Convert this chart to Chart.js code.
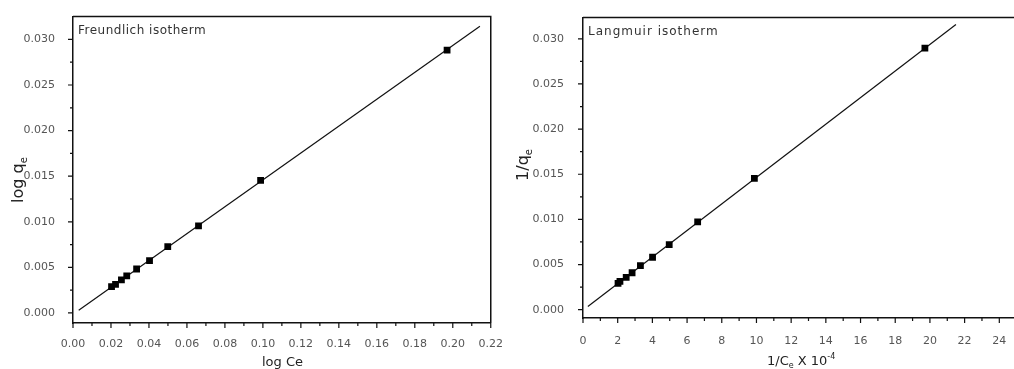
<!DOCTYPE html>
<html>
<head>
<meta charset="utf-8">
<script src="https://cdn.jsdelivr.net/npm/chart.js@4"></script>
<style>
  html, body { margin: 0; padding: 0; background: #fff; overflow: hidden; width: 1014px; height: 369px; }
  canvas { position: absolute; top: 0; }
  #freundlich { left: 0; }
  #langmuir { left: 510px; }
</style>
</head>
<body>
<canvas id="freundlich" width="510" height="369"></canvas>
<canvas id="langmuir" width="540" height="369"></canvas>
<script>
// Freundlich: log Ce vs log qe
const freundX = [0.0203, 0.0224, 0.0255, 0.0283, 0.0335, 0.0403, 0.0499, 0.0661, 0.0988, 0.197];
const freundY = [0.00289, 0.00314, 0.00364, 0.00407, 0.00482, 0.00575, 0.00728, 0.00956, 0.01453, 0.02883];
const freundFitX = [0.003, 0.2143];
const freundFitY = [0.0003, 0.03145];
const freundXTicks = [0, 0.02, 0.04, 0.06, 0.08, 0.10, 0.12, 0.14, 0.16, 0.18, 0.20, 0.22];
const freundYTicks = [0, 0.005, 0.010, 0.015, 0.020, 0.025, 0.030];

// Langmuir: 1/Ce x 10^-4 vs 1/qe
const langX = [2.02, 2.13, 2.49, 2.83, 3.31, 4.01, 4.97, 6.61, 9.88, 19.71];
const langY = [0.00292, 0.00314, 0.00358, 0.00409, 0.00489, 0.00581, 0.00720, 0.00972, 0.01454, 0.02898];
const langFitX = [0.28, 21.5];
const langFitY = [0.00036, 0.03158];
const langXTicks = [0, 2, 4, 6, 8, 10, 12, 14, 16, 18, 20, 22, 24, 26];
const langYTicks = [0, 0.005, 0.010, 0.015, 0.020, 0.025, 0.030];

const toPts = (xs, ys) => xs.map((x, i) => ({ x: x, y: ys[i] }));

// draw frame, outward ticks, in-plot title and axis titles
const framePlugin = {
    id: "frame",
    afterDraw(chart, args, o) {
        const ctx = chart.ctx;
        const a = chart.chartArea;
        const xs = chart.scales.x, ys = chart.scales.y;
        ctx.save();
        ctx.strokeStyle = "#111";
        ctx.lineWidth = 1.5;
        ctx.beginPath();
        ctx.moveTo(a.left, a.top);
        ctx.lineTo(a.right, a.top);
        if (o.rightBorder) ctx.lineTo(a.right, a.bottom);
        ctx.stroke();

        ctx.lineWidth = 1.2;
        ctx.beginPath();
        o.xTicks.forEach((v, i) => {
            let p = xs.getPixelForValue(v);
            ctx.moveTo(p, a.bottom); ctx.lineTo(p, a.bottom + 5);
            if (i < o.xTicks.length - 1) {
                let m = xs.getPixelForValue((v + o.xTicks[i + 1]) / 2);
                ctx.moveTo(m, a.bottom); ctx.lineTo(m, a.bottom + 3);
            }
        });
        o.yTicks.forEach((v, i) => {
            let p = ys.getPixelForValue(v);
            ctx.moveTo(a.left, p); ctx.lineTo(a.left - 5, p);
            if (i < o.yTicks.length - 1) {
                let m = ys.getPixelForValue((v + o.yTicks[i + 1]) / 2);
                ctx.moveTo(a.left, m); ctx.lineTo(a.left - 3, m);
            }
        });
        ctx.stroke();

        // title inside plot
        ctx.fillStyle = "#333";
        ctx.font = "12px 'DejaVu Sans'";
        ctx.letterSpacing = o.titleSpacing;
        ctx.textBaseline = "alphabetic";
        ctx.textAlign = "left";
        ctx.fillText(o.title, a.left + 5, a.top + 17);
        ctx.letterSpacing = "0px";

        ctx.fillStyle = "#222";
        drawRich(ctx, o.xTitle, o.xTitlePos[0], o.xTitlePos[1], 13, false);
        ctx.save();
        ctx.translate(o.yTitlePos[0], o.yTitlePos[1]);
        ctx.rotate(-Math.PI / 2);
        drawRich(ctx, o.yTitle, 0, 5, 16, true);
        ctx.restore();
        ctx.restore();
    }
};

// text with sub/superscript parts
function drawRich(ctx, parts, x, y, size, centered) {
    let widths = parts.map(p => {
        ctx.font = (p.sub || p.sup ? Math.round(size * 0.6) : size) + "px 'DejaVu Sans'";
        return ctx.measureText(p.t).width;
    });
    let total = widths.reduce((s, w) => s + w, 0);
    let cx = centered ? x - total / 2 : x;
    parts.forEach((p, i) => {
        ctx.font = (p.sub || p.sup ? Math.round(size * 0.6) : size) + "px 'DejaVu Sans'";
        let dy = p.sub ? size * 0.25 : (p.sup ? -size * 0.45 : 0);
        ctx.fillText(p.t, cx, y + dy);
        cx += widths[i];
    });
}

function makeChart(id, cfg) {
    return new Chart(document.getElementById(id), {
        type: "scatter",
        data: {
            datasets: [
                {
                    data: toPts(cfg.pointsX, cfg.pointsY),
                    pointStyle: "rect",
                    pointRadius: 4.8,
                    pointBorderWidth: 0,
                    backgroundColor: "#000",
                    borderColor: "#000",
                    order: 0
                },
                {
                    data: toPts(cfg.fitX, cfg.fitY),
                    showLine: true,
                    borderColor: "#111",
                    borderWidth: 1.2,
                    pointRadius: 0,
                    order: 1
                }
            ]
        },
        options: {
            responsive: false,
            animation: false,
            devicePixelRatio: 1,
            layout: { padding: cfg.padding },
            plugins: {
                legend: { display: false },
                tooltip: { enabled: false },
                frame: cfg.frame
            },
            scales: {
                x: {
                    type: "linear",
                    min: cfg.xMin, max: cfg.xMax,
                    afterBuildTicks: s => { s.ticks = cfg.xTicks.map(v => ({ value: v })); },
                    afterFit: s => { s.height = cfg.xAxisHeight; },
                    grid: { display: false },
                    border: { display: true, color: "#111", width: 1.5 },
                    ticks: {
                        padding: cfg.xPad,
                        color: "#555",
                        font: { family: "DejaVu Sans", size: 11 },
                        maxRotation: 0,
                        autoSkip: false,
                        callback: cfg.xFmt
                    }
                },
                y: {
                    type: "linear",
                    min: cfg.yMin, max: cfg.yMax,
                    afterBuildTicks: s => { s.ticks = cfg.yTicks.map(v => ({ value: v })); },
                    afterFit: s => { s.width = 73; },
                    grid: { display: false },
                    border: { display: true, color: "#111", width: 1.5 },
                    ticks: {
                        padding: cfg.yPad,
                        color: "#555",
                        font: { family: "DejaVu Sans", size: 11 },
                        autoSkip: false,
                        callback: v => v.toFixed(3)
                    }
                }
            }
        },
        plugins: [framePlugin]
    });
}

makeChart("freundlich", {
    pointsX: freundX, pointsY: freundY, fitX: freundFitX, fitY: freundFitY,
    xMin: 0, xMax: 0.22, yMin: -0.0011, yMax: 0.0325,
    xTicks: freundXTicks, yTicks: freundYTicks,
    xFmt: v => v.toFixed(2),
    padding: { top: 11, right: 18, left: 0, bottom: 0 },
    xAxisHeight: 46, xPad: 7, yPad: 10,
    frame: {
        rightBorder: true,
        xTicks: freundXTicks, yTicks: freundYTicks,
        title: "Freundlich isotherm", titleSpacing: "0.5px",
        xTitle: [{ t: "log Ce" }], xTitlePos: [262, 366],
        yTitle: [{ t: "log q" }, { t: "e", sub: true }], yTitlePos: [18, 180]
    }
});

makeChart("langmuir", {
    pointsX: langX, pointsY: langY, fitX: langFitX, fitY: langFitY,
    xMin: 0, xMax: 26, yMin: -0.00092, yMax: 0.03235,
    xTicks: langXTicks, yTicks: langYTicks,
    xFmt: v => String(v),
    padding: { top: 14, right: 6, left: 0, bottom: 0 },
    xAxisHeight: 51, xPad: 9, yPad: 11,
    frame: {
        rightBorder: false,
        xTicks: langXTicks, yTicks: langYTicks,
        title: "Langmuir isotherm", titleSpacing: "1px",
        xTitle: [{ t: "1/C" }, { t: "e", sub: true }, { t: " X 10" }, { t: "-4", sup: true }], xTitlePos: [257, 365],
        yTitle: [{ t: "1/q" }, { t: "e", sub: true }], yTitlePos: [13, 165]
    }
});
</script>
</body>
</html>
